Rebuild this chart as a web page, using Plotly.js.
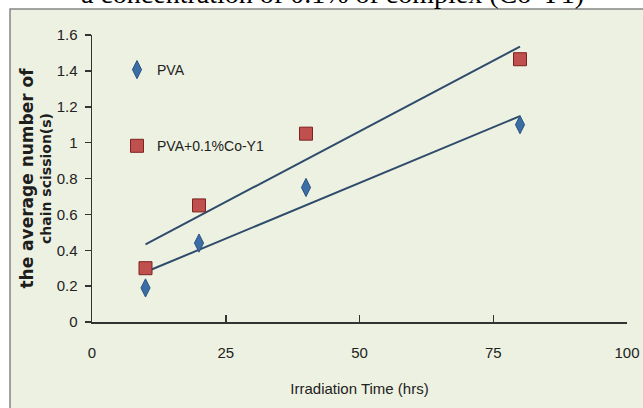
<!DOCTYPE html>
<html>
<head>
<meta charset="utf-8">
<script src="https://cdn.plot.ly/plotly-3.0.1.min.js"></script>
<style>
  html, body { margin: 0; padding: 0; background: #ffffff; }
  #chart { width: 643px; height: 408px; }
</style>
</head>
<body>
<div id="chart"></div>
<script>
// ---- data ----
const irradiationHours = [10, 20, 40, 80];
const pvaScission = [0.19, 0.44, 0.75, 1.10];
const pvaCoY1Scission = [0.30, 0.65, 1.05, 1.465];
const seriesNames = ["PVA", "PVA+0.1%Co-Y1"];
const xTicks = [0, 25, 50, 75, 100];
const yTicks = [0, 0.2, 0.4, 0.6, 0.8, 1, 1.2, 1.4, 1.6];
const chartTitle = "a concentration of 0.1% of complex (Co-Y1)";
const xTitle = "Irradiation Time (hrs)";

// least-squares linear trendline (as in the spreadsheet chart)
function linearFit(xs, ys) {
  const n = xs.length;
  const mx = xs.reduce((a, b) => a + b, 0) / n;
  const my = ys.reduce((a, b) => a + b, 0) / n;
  let sxy = 0, sxx = 0;
  for (let i = 0; i < n; i++) { sxy += (xs[i] - mx) * (ys[i] - my); sxx += (xs[i] - mx) ** 2; }
  const slope = sxy / sxx, icpt = my - slope * mx;
  const xEnds = [Math.min(...xs), Math.max(...xs)];
  return { x: xEnds, y: xEnds.map(v => icpt + slope * v) };
}

const narrow = "'Liberation Sans', Arial, sans-serif";
const trendColor = "#2f4b6c";

const fitPva = linearFit(irradiationHours, pvaScission);
const fitCo = linearFit(irradiationHours, pvaCoY1Scission);

const traces = [
  { x: fitCo.x, y: fitCo.y, mode: "lines", type: "scatter", showlegend: false, hoverinfo: "skip",
    line: { color: trendColor, width: 2 } },
  { x: fitPva.x, y: fitPva.y, mode: "lines", type: "scatter", showlegend: false, hoverinfo: "skip",
    line: { color: trendColor, width: 2 } },
  { x: irradiationHours, y: pvaScission, name: seriesNames[0], mode: "markers", type: "scatter",
    legendgroup: "a",
    marker: { symbol: "diamond-tall", size: 13, color: "#3b6ea5", line: { color: "#2a5282", width: 1 } } },
  { x: irradiationHours, y: pvaCoY1Scission, name: seriesNames[1], mode: "markers", type: "scatter",
    legendgroup: "b",
    marker: { symbol: "square", size: 13, color: "#c0504d", line: { color: "#7e2222", width: 1 } } }
];

const L = 92, R = 16, T = 35, B = 86;
const W = 643 - L - R, H = 408 - T - B;
const px = v => (v - L) / W;         // pixel x -> paper
const py = v => (408 - B - v) / H;   // pixel y -> paper

const layout = {
  width: 643, height: 408,
  margin: { l: L, r: R, t: T, b: B, pad: 0 },
  paper_bgcolor: "#ffffff",
  plot_bgcolor: "rgba(0,0,0,0)",
  showlegend: true,
  legend: {
    x: px(117), y: py(54), xanchor: "left", yanchor: "top",
    bgcolor: "rgba(0,0,0,0)", borderwidth: 0,
    tracegroupgap: 55,
    font: { family: narrow, size: 14, color: "#222222" }
  },
  xaxis: {
    range: [0, 100], tickvals: xTicks, ticktext: xTicks.map(String),
    ticks: "inside", ticklen: 7, tickwidth: 1.5, tickcolor: "#333333",
    showline: true, linecolor: "#333333", linewidth: 2,
    showgrid: false, zeroline: false, automargin: false,
    ticklabelstandoff: 16,
    tickfont: { family: narrow, size: 15, color: "#222222" },
    title: { text: xTitle, standoff: 23, font: { family: narrow, size: 15, color: "#222222" } }
  },
  yaxis: {
    range: [0, 1.6], tickvals: yTicks,
    ticks: "outside", ticklen: 6, tickwidth: 1.5, tickcolor: "#333333",
    showline: true, linecolor: "#333333", linewidth: 1.5,
    showgrid: false, zeroline: false, automargin: false,
    ticklabelstandoff: 4,
    tickfont: { family: narrow, size: 15, color: "#222222" },
    title: {
      text: "<span style='font-size:17px'>the average number of</span><br><span style='font-size:14px'>chain scission(s)</span>",
      standoff: 1,
      font: { family: "'DejaVu Sans', sans-serif", size: 14, color: "#1e1e1e", weight: "bold" }
    }
  },
  shapes: [
    { type: "rect", xref: "paper", yref: "paper", layer: "below",
      x0: px(10), x1: px(660), y0: py(420), y1: py(9),
      fillcolor: "#edf1e1", line: { color: "#858585", width: 1.5 } }
  ],
  annotations: [
    { text: chartTitle, xref: "paper", yref: "paper", x: px(332), y: 1,
      xanchor: "center", yanchor: "bottom", yshift: 24, showarrow: false,
      font: { family: "'Liberation Serif', 'Times New Roman', serif", size: 28, color: "#000000" } }
  ]
};

Plotly.newPlot("chart", traces, layout, { displayModeBar: false, staticPlot: true });
</script>
</body>
</html>
